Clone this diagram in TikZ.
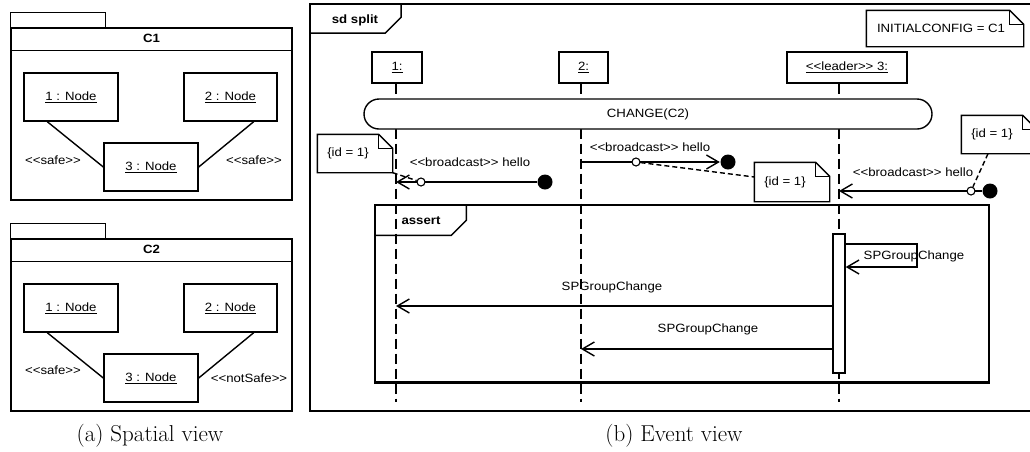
\documentclass[tikz,border=0pt]{standalone}
\usepackage{fontspec}
\usetikzlibrary{arrows.meta,shapes.misc}
\newfontfamily\umlfont{Liberation Sans}[FakeStretch=1.1]
\newcommand\stereo[1]{<\kern0pt<#1>\kern0pt>}

\begin{document}
\begin{tikzpicture}[x=1pt, y=-1pt, line width=1.4pt,
    every node/.style={font=\umlfont\fontsize{12}{14}\selectfont},
    obj/.style={draw, fill=white, inner sep=0pt},
    lbl/.style={inner sep=0pt},
    title/.style={inner sep=0pt, font=\umlfont\bfseries\fontsize{12}{14}\selectfont},
    lifeline/.style={dash pattern=on 10pt off 5pt},
    msg/.style={-{Straight Barb[length=12pt,width=14pt]}},
    link/.style={dash pattern=on 5pt off 3pt},
    dot/.style={circle, fill=black, minimum size=15pt, inner sep=0pt},
    port/.style={circle, draw, fill=white, minimum size=8pt, inner sep=0pt, line width=1.1pt},
    note/.style={inner sep=0pt, append after command={\pgfextra{
        \filldraw[fill=white] (\tikzlastnode.north west) -- ([xshift=-14pt]\tikzlastnode.north east)
              -- ([yshift=-14pt]\tikzlastnode.north east) -- (\tikzlastnode.south east)
              -- (\tikzlastnode.south west) -- cycle;
        \draw ([xshift=-14pt]\tikzlastnode.north east) |- ([yshift=-14pt]\tikzlastnode.north east);}}},
    caption/.style={font=\fontsize{23}{27}\selectfont}]
    \useasboundingbox (0,0) rectangle (1030,451);
    \clip (0,0) rectangle (1030,451);

    % spatial view: the two configurations
    \foreach \k/\dy/\rlbl/\rx/\ry/\ly in {1/0/safe/254/160/160, 2/211/notSafe/249/378/370} {
        \node[draw, minimum width=281pt, minimum height=172pt, inner sep=0pt] (pkg\k) at (151.5,114+\dy) {};
        \draw (pkg\k.north west) rectangle ++(95,-15);
        \draw ([yshift=-23pt]pkg\k.north west) -- ([yshift=-23pt]pkg\k.north east);
        \node[title] (ttl\k) at ([yshift=-11.5pt]pkg\k.north) {C\k};
        \node[obj, minimum width=94pt, minimum height=48pt] (a\k) at (71,97+\dy) {\underline{1 : Node}};
        \node[obj, minimum width=93pt, minimum height=48pt] (b\k) at (230.5,97+\dy) {\underline{2 : Node}};
        \node[obj, minimum width=94pt, minimum height=48pt] (c\k) at (151,167+\dy) {\underline{3 : Node}};
        \draw ([xshift=24pt]a\k.south west) -- (c\k.west);
        \draw ([xshift=-24pt]b\k.south east) -- (c\k.east);
        \node[lbl] (sl\k) at (53,\ly) {\stereo{safe}};
        \node[lbl] (sr\k) at (\rx,\ry) {\stereo{\rlbl}};
    }
    \node[caption] (capa) at (150,436) {(a) Spatial view};

    % event view: sequence diagram
    \node[draw, line width=1.7pt, minimum width=730pt, minimum height=407pt, inner sep=0pt] (sd) at (675,207.5) {};
    \draw ([yshift=-30pt]sd.north west) -- ++(76,0) -- ++(16,-16) -- ++(0,-14);
    \node[title] (sdl) at (355,20) {sd split};
    \node[note, minimum width=156pt, minimum height=35pt] (init) at (945,28.5) {INITIALCONFIG = C1\hspace*{8pt}};

    % lifelines
    \node[obj, minimum width=50pt, minimum height=31pt] (l1) at (397,67.5) {\underline{1:}};
    \node[obj, minimum width=49pt, minimum height=31pt] (l2) at (583.5,67.5) {\underline{2:}};
    \node[obj, minimum width=120pt, minimum height=31pt] (l3) at (847,67.5) {\underline{\stereo{leader} 3:}};
    \coordinate (t1) at (396,402);
    \coordinate (t2) at (581,402);
    \coordinate (t3) at (839,402);
    \draw[lifeline] (l1.south -| t1) -- (t1);
    \draw[lifeline] (l2.south -| t2) -- (t2);
    \draw[lifeline] (l3.south -| t3) -- (t3);

    \node[draw, fill=white, rounded rectangle, minimum width=568pt, minimum height=30pt, inner sep=0pt] (chg) at (648,114) {CHANGE(C2)};

    % broadcast messages
    \node[dot] (dot1) at (545,182) {};
    \draw[msg] (dot1) -- (t1 |- dot1);
    \node[port] (p1) at (421,182) {};
    \node[lbl] (m1) at (470,162) {\stereo{broadcast} hello};
    \node[note, minimum width=74pt, minimum height=37pt] (n1) at (355,153.5) {\{id = 1\}\hspace*{14pt}};
    \draw[link] (n1.south east) -- (p1);

    \node[dot] (dot2) at (728,162) {};
    \draw[msg] (t2 |- dot2) -- (dot2);
    \node[port] (p2) at (636,162) {};
    \node[lbl] (m2) at (650,147) {\stereo{broadcast} hello};
    \node[note, minimum width=74pt, minimum height=38pt] (n2) at (792,182) {\{id = 1\}\hspace*{14pt}};
    \draw[link] (p2) -- ([yshift=5pt]n2.west);

    \node[dot] (dot3) at (990,191) {};
    \draw[msg] (dot3) -- (t3 |- dot3);
    \node[port] (p3) at (971,191) {};
    \node[lbl] (m3) at (913,172) {\stereo{broadcast} hello};
    \node[note, minimum width=74pt, minimum height=37pt] (n3) at (999,134.5) {\{id = 1\}\hspace*{14pt}};
    \draw[link] ([xshift=-11pt]n3.south) -- (p3);

    % assert fragment
    \node[draw, minimum width=614pt, minimum height=177pt, inner sep=0pt] (asrt) at (682,293.5) {};
    \draw[line width=3pt] (asrt.south west) -- (asrt.south east);
    \draw ([yshift=-31pt]asrt.north west) -- ++(77,0) -- ++(15,-15) -- ++(0,-16);
    \node[title] (asrtl) at (421,221) {assert};

    \node[obj, minimum width=12pt, minimum height=139pt] (act) at (839,303.5) {};
    \draw[msg] (act.east |- 0,244) -- (917,244) -- (917,267) -- (act.east |- 0,267);
    \node[lbl] (s1) at (914,256) {SPGroupChange};
    \draw[msg] (act.west |- 0,306) -- (t1 |- 0,306);
    \node[lbl] (s2) at (612,287) {SPGroupChange};
    \draw[msg] (act.west |- 0,349) -- (t2 |- 0,349);
    \node[lbl] (s3) at (708,329) {SPGroupChange};

    \node[caption] (capb) at (674,436) {(b) Event view};
\end{tikzpicture}
\end{document}
